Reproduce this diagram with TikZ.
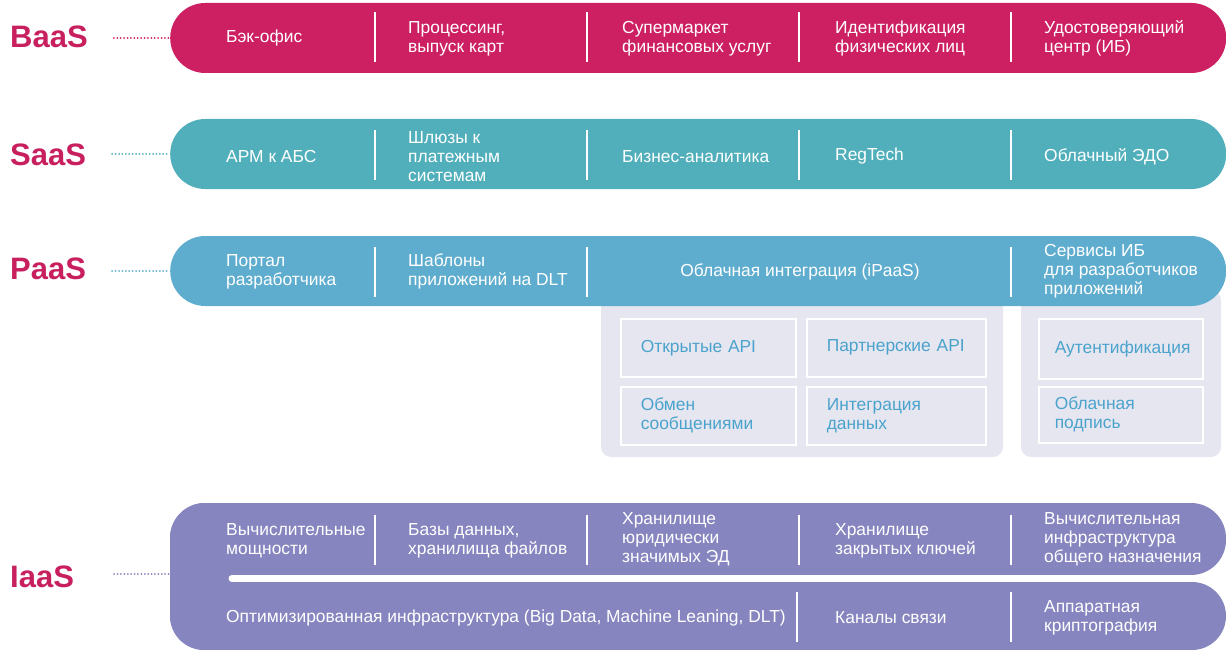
\documentclass[tikz,border=0pt]{standalone}
\usepackage{fontspec}
\setmainfont{Liberation Sans}
\usetikzlibrary{shapes.misc}

\definecolor{baascol}{HTML}{CC2063}
\definecolor{saascol}{HTML}{50AFBB}
\definecolor{paascol}{HTML}{5EADCF}
\definecolor{iaascol}{HTML}{8685BF}
\definecolor{tiercol}{HTML}{C81F5F}
\definecolor{panelcol}{HTML}{E6E6F0}
\definecolor{subtext}{HTML}{4AA3CC}

\begin{document}
\begin{tikzpicture}[
        x=1pt,
        y=-1pt,
        every node/.style={font=\fontsize{17.4}{19}\selectfont, inner sep=0pt},
        tier/.style={font=\fontsize{31}{31}\selectfont\bfseries, text=tiercol, anchor=west},
        band/.style={rounded rectangle, fill=#1, minimum width=1056pt, minimum height=70pt, anchor=west},
        item/.style={text=white, anchor=west, align=left, yshift=-1.5pt},
        sep/.style={draw=white, line width=1.2pt},
        link/.style={draw=#1, line width=2pt, line cap=round, dash pattern=on 0pt off 3.4pt},
        subbox/.style={draw=white, line width=1.5pt, fill=panelcol, text=subtext, align=left,
            anchor=north west, inner xsep=20pt, minimum height=58pt, text width=#1}
    ]
        \useasboundingbox (0,0) rectangle (1226,650);

        % Panels under PaaS
        \fill[panelcol, rounded corners=10pt] (601,290) rectangle (1003,457);
        \fill[panelcol, rounded corners=10pt] (1021,290) rectangle (1221,457);

        % Tier bands
        \node[band=baascol] (baasband) at (170,38) {};
        \node[band=saascol] (saasband) at (170,154) {};
        \node[band=paascol] (paasband) at (170,271) {};

        % IaaS: two bands joined on the left
        \fill[iaascol, rounded corners=35pt] (170,503) rectangle (1226,575);
        \fill[iaascol, rounded corners=34pt] (170,582) rectangle (1226,650);
        \fill[iaascol, rounded corners=35pt] (170,503) rectangle (320,650);
        \draw[white, line width=7pt, line cap=round] (232,578.5) -- (1232,578.5);
        \coordinate (iaasband) at (170,574);

        % Tier labels
        \node[tier] (baas) at (10,37) {BaaS};
        \node[tier] (saas) at (10,155) {SaaS};
        \node[tier] (paas) at (10,269) {PaaS};
        \node[tier] (iaas) at (10,577) {IaaS};

        \draw[link=baascol] ([xshift=26pt]baas.east |- baasband.west) -- (baasband.west);
        \draw[link=saascol] ([xshift=26pt]saas.east |- saasband.west) -- (saasband.west);
        \draw[link=paascol] ([xshift=26pt]paas.east |- paasband.west) -- (paasband.west);
        \draw[link=iaascol] ([xshift=40pt]iaas.east |- iaasband) -- (iaasband);

        % Separators
        \foreach \x in {375,587,799,1011} {
            \draw[sep] (\x,12) -- (\x,62);
            \draw[sep] (\x,130) -- (\x,180);
            \draw[sep] (\x,515) -- (\x,565);
        }
        \foreach \x in {375,587,1011}
            \draw[sep] (\x,247) -- (\x,297);
        \foreach \x in {797,1011}
            \draw[sep] (\x,592) -- (\x,642);
        \draw[saascol, line width=1pt, dash pattern=on 1pt off 2pt] (293,298) -- (830,298);

        % BaaS
        \node[item] (backoffice) at (226,37) {Бэк-офис};
        \node[item] (processing) at (408,37) {Процессинг,\\выпуск карт};
        \node[item] (market) at (622,37) {Супермаркет\\финансовых услуг};
        \node[item] (ident) at (835,37) {Идентификация\\физических лиц};
        \node[item] (certcenter) at (1044,37) {Удостоверяющий\\центр (ИБ)};

        % SaaS
        \node[item] (arm) at (226,155) {АРМ к АБС};
        \node[item] (gateways) at (408,155) {Шлюзы к\\платежным\\системам};
        \node[item] (analytics) at (622,155) {Бизнес-аналитика};
        \node[item] (regtech) at (835,155) {RegTech};
        \node[item] (edo) at (1044,155) {Облачный ЭДО};

        % PaaS
        \node[item] (portal) at (226,270) {Портал\\разработчика};
        \node[item] (templates) at (408,270) {Шаблоны\\приложений на DLT};
        \node[item, anchor=center] (ipaas) at (800,270) {Облачная интеграция (iPaaS)};
        \node[item] (secservices) at (1044,270) {Сервисы ИБ\\для разработчиков\\приложений};

        \node[subbox=135pt] (openapi) at (620,318) {Открытые API};
        \node[subbox=139pt] (partnerapi) at (806,318) {Партнерские API};
        \node[subbox=135pt] (messaging) at (620,386) {Обмен\\сообщениями};
        \node[subbox=139pt] (dataint) at (806,386) {Интеграция\\данных};
        \node[subbox=132pt, inner xsep=16pt, minimum height=60pt] (auth) at (1038,318) {Аутентификация};
        \node[subbox=132pt, inner xsep=16pt, minimum height=56pt] (cloudsign) at (1038,386) {Облачная\\подпись};

        % IaaS
        \node[item] (compute) at (226,539) {Вычислительные\\мощности};
        \node[item] (databases) at (408,539) {Базы данных,\\хранилища файлов};
        \node[item] (legalstore) at (622,538) {Хранилище\\юридически\\значимых ЭД};
        \node[item] (keystore) at (835,539) {Хранилище\\закрытых ключей};
        \node[item] (generalinfra) at (1044,538) {Вычислительная\\инфраструктура\\общего назначения};
        \node[item] (optinfra) at (226,616) {Оптимизированная инфраструктура (Big Data, Machine Leaning, DLT)};
        \node[item] (channels) at (835,616) {Каналы связи};
        \node[item] (hwcrypto) at (1044,616) {Аппаратная\\криптография};
    \end{tikzpicture}
\end{document}
